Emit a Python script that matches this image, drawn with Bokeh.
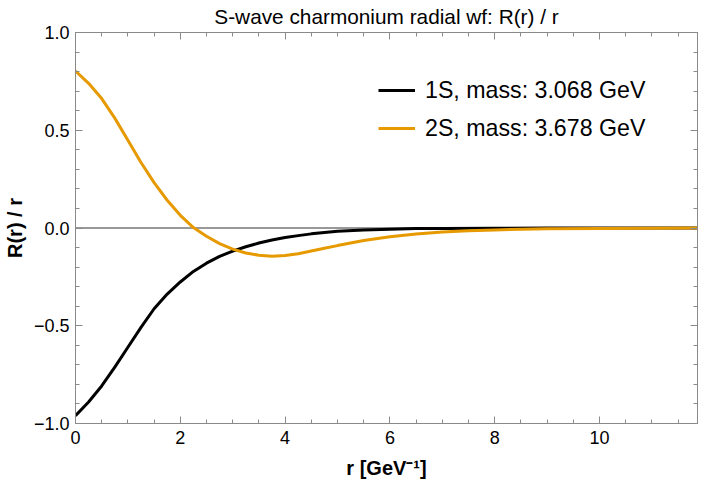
import numpy as np
from bokeh.plotting import figure
from bokeh.models import (LinearAxis, FixedTicker, Range1d, Span, Legend, LegendItem)
from bokeh.embed import file_html
from bokeh.resources import INLINE

# radial grid (GeV^-1) and wavefunction values
r_1s = [0.0, 0.25, 0.5, 0.75, 1.0, 1.25, 1.5, 1.75, 2.0, 2.25, 2.5, 2.75, 3.0, 3.25,
        3.5, 3.75, 4.0, 4.25, 4.5, 4.75, 5.0, 5.5, 6.0, 6.5, 7.0, 8.0, 9.0, 10.0, 11.0, 12.0]
psi_1s = [-0.960, -0.890, -0.808, -0.712, -0.610, -0.508, -0.413, -0.338, -0.276, -0.222,
          -0.180, -0.145, -0.118, -0.096, -0.077, -0.061, -0.049, -0.039, -0.030, -0.023,
          -0.017, -0.010, -0.006, -0.003, -0.002, -0.001, 0.0, 0.0, 0.0, 0.0]

r_2s = [0.0, 0.25, 0.5, 0.75, 1.0, 1.25, 1.5, 1.75, 2.0, 2.25, 2.5, 2.75, 3.0, 3.25,
        3.5, 3.75, 4.0, 4.25, 4.5, 4.75, 5.0, 5.5, 6.0, 6.5, 7.0, 7.5, 8.0, 8.5, 9.0,
        10.0, 11.0, 12.0]
psi_2s = [0.803, 0.740, 0.662, 0.562, 0.449, 0.335, 0.232, 0.142, 0.065, 0.002, -0.042,
          -0.080, -0.108, -0.128, -0.139, -0.144, -0.141, -0.132, -0.118, -0.104, -0.090,
          -0.064, -0.045, -0.031, -0.021, -0.014, -0.010, -0.006, -0.004, -0.002, -0.001, 0.0]

series_labels = ["1S, mass: 3.068 GeV", "2S, mass: 3.678 GeV"]
series_colors = ["#000000", "#E69A00"]

x_ticks = [0, 2, 4, 6, 8, 10]
x_tick_labels = ["0", "2", "4", "6", "8", "10"]
y_ticks = [-1.0, -0.5, 0.0, 0.5, 1.0]
y_tick_labels = ["\u22121.0", "\u22120.5", "0.0", "0.5", "1.0"]

FONT = "Liberation Sans"
FRAME = "#8a8a8a"

p = figure(width=698, height=481, output_backend="svg", toolbar_location=None,
           x_range=Range1d(0, 11.87), y_range=Range1d(-1, 1),
           min_border_left=75, min_border_right=1, min_border_top=32, min_border_bottom=57,
           title="S\u2010wave charmonium radial wf: R(r) / r")
p.title.align = "center"
p.title.vertical_align = "top"
p.title.text_font = FONT
p.title.text_font_size = "20.8px"
p.title.text_font_style = "normal"
p.title.text_color = "#000000"
p.title.standoff = 5

p.xgrid.visible = False
p.ygrid.visible = False
p.outline_line_color = FRAME
p.outline_line_width = 1

x_minor = [float(v) for v in np.arange(0, 12.01, 0.5)]
y_minor = [float(v) for v in np.round(np.arange(-1, 1.001, 0.1), 2)]


def style_axis(ax, ticks, minor, labels, show_labels=True):
    ax.ticker = FixedTicker(ticks=ticks, minor_ticks=minor)
    ax.major_tick_in = 7
    ax.major_tick_out = 0
    ax.minor_tick_in = 4
    ax.minor_tick_out = 0
    ax.axis_line_color = FRAME
    ax.major_tick_line_color = FRAME
    ax.minor_tick_line_color = FRAME
    ax.major_label_text_font = FONT
    if show_labels:
        ax.major_label_overrides = {t: l for t, l in zip(ticks, labels)}
        ax.major_label_text_font_size = "18px"
        ax.major_label_text_color = "#000000"
        ax.major_label_standoff = 7
    else:
        ax.major_label_overrides = {t: "" for t in ticks}
        ax.major_label_text_font_size = "1px"
        ax.major_label_standoff = 0


style_axis(p.xaxis[0], x_ticks, x_minor, x_tick_labels)
style_axis(p.yaxis[0], y_ticks, y_minor, y_tick_labels)
p.yaxis[0].major_label_standoff = 6
p.xaxis[0].axis_label = "r [GeV\u207b\u00b9]"
p.yaxis[0].axis_label = "R(r) / r"
for ax in (p.xaxis[0], p.yaxis[0]):
    ax.axis_label_text_font = FONT
    ax.axis_label_text_font_size = "20px"
    ax.axis_label_text_font_style = "bold"
    ax.axis_label_text_color = "#000000"
p.xaxis[0].axis_label_standoff = 10
p.yaxis[0].axis_label_standoff = 5

top_ax = LinearAxis()
style_axis(top_ax, x_ticks, x_minor, x_tick_labels, show_labels=False)
p.add_layout(top_ax, "above")
right_ax = LinearAxis()
style_axis(right_ax, y_ticks, y_minor, y_tick_labels, show_labels=False)
p.add_layout(right_ax, "right")

zero = Span(location=0, dimension="width", line_color="#333333", line_width=1, level="underlay")
p.add_layout(zero)

r1 = p.line(r_1s, psi_1s, line_color=series_colors[0], line_width=3)
r2 = p.line(r_2s, psi_2s, line_color=series_colors[1], line_width=3)

legend = Legend(items=[LegendItem(label=series_labels[0], renderers=[r1]),
                       LegendItem(label=series_labels[1], renderers=[r2])],
                location=(303, 280), label_text_font=FONT, label_text_font_size="23.2px",
                label_text_color="#000000", glyph_width=37, glyph_height=30, label_height=30,
                spacing=8, padding=0, margin=0, border_line_alpha=0, background_fill_alpha=0,
                label_standoff=10)
p.add_layout(legend)

open("out.html", "w").write(file_html(p, INLINE))
